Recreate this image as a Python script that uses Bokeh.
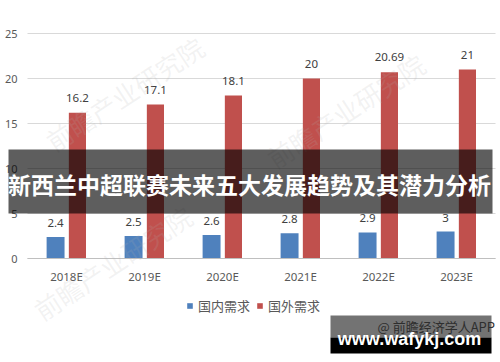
from bokeh.plotting import figure
from bokeh.models import (ColumnDataSource, LabelSet, Label, BoxAnnotation, Grid,
                          Legend, LegendItem, LinearAxis, FixedTicker, Range1d)
from bokeh.transform import dodge
from bokeh.core.properties import value
from bokeh.embed import file_html
from bokeh.resources import INLINE

years = ["2018E", "2019E", "2020E", "2021E", "2022E", "2023E"]
domestic = [2.4, 2.5, 2.6, 2.8, 2.9, 3]
foreign = [16.2, 17.1, 18.1, 20, 20.69, 21]
domestic_labels = ["2.4", "2.5", "2.6", "2.8", "2.9", "3"]
foreign_labels = ["16.2", "17.1", "18.1", "20", "20.69", "21"]
series_names = ["国内需求", "国外需求"]
y_ticks = [0, 5, 10, 15, 20, 25]
title_text = "新西兰中超联赛未来五大发展趋势及其潜力分析"
site_text = "www.wafykj.com"
source_text = "@ 前瞻经济学人APP"
watermark_text = "前瞻产业研究院"

BLUE = "#4f81bd"
RED = "#c0504d"
CJK = "Noto Sans CJK SC"
NUM = "Noto Sans"
W, H = 500, 362

n = len(years)
pos = [i + 0.5 for i in range(n)]          # category centres on a numeric scale
src = ColumnDataSource(dict(x=pos, year=years, domestic=domestic, foreign=foreign,
                            dl=domestic_labels, fl=foreign_labels))

# frame covers the whole canvas; ranges chosen so 0..6 categories span px 27..495
# and the value axis 0..25 spans px 258..33
p = figure(width=W, height=H,
           x_range=Range1d(-27 / 78, (W - 27) / 78),
           y_range=Range1d(-(H - 258) / 9, 258 / 9),
           output_backend="svg", toolbar_location=None,
           x_axis_location=None, y_axis_location=None,
           min_border=0, min_border_left=0, min_border_right=0,
           min_border_top=0, min_border_bottom=0)
p.outline_line_color = None
p.background_fill_color = "white"
p.border_fill_color = "white"

p.xgrid.visible = False
p.ygrid.visible = False

yaxis = LinearAxis(fixed_location=0, bounds=(0, 25), ticker=FixedTicker(ticks=y_ticks),
                   axis_line_color=None, major_tick_line_color=None,
                   minor_tick_line_color=None, major_tick_in=0, major_tick_out=0,
                   major_label_standoff=10, major_label_text_font_size="11px",
                   major_label_text_color="#595959", major_label_text_font=NUM)
p.add_layout(yaxis, "left")

grid = Grid(dimension=1, ticker=FixedTicker(ticks=y_ticks), cross_bounds=(0, n),
            grid_line_color="#d9d9d9", grid_line_width=1)
p.add_layout(grid)

xaxis = LinearAxis(fixed_location=0, bounds=(0, n), ticker=FixedTicker(ticks=pos),
                   major_label_overrides={pos[i]: years[i] for i in range(n)},
                   axis_line_color="#bfbfbf", major_tick_line_color=None,
                   minor_tick_line_color=None, major_tick_in=0, major_tick_out=0,
                   major_label_standoff=10, major_label_text_font_size="11.5px",
                   major_label_text_color="#595959", major_label_text_font=NUM)
p.add_layout(xaxis, "below")

r1 = p.vbar(x=dodge("x", -0.14), top="domestic", width=0.23,
            source=src, fill_color=BLUE, line_color=None)
r2 = p.vbar(x=dodge("x", 0.14), top="foreign", width=0.22,
            source=src, fill_color=RED, line_color=None)

p.add_layout(LabelSet(x=dodge("x", -0.14), y="domestic", text="dl",
                      source=src, text_align="center", text_baseline="middle",
                      y_offset=14, text_font_size="11.5px", text_color="#404040",
                      text_font=value(NUM)))
p.add_layout(LabelSet(x=dodge("x", 0.14), y="foreign", text="fl",
                      source=src, text_align="center", text_baseline="middle",
                      y_offset=15, text_font_size="11.5px", text_color="#404040",
                      text_font=value(NUM)))

legend = Legend(items=[LegendItem(label=series_names[0], renderers=[r1]),
                       LegendItem(label=series_names[1], renderers=[r2])],
                orientation="horizontal", location=(186, 47),
                glyph_width=7, glyph_height=7, label_standoff=5, spacing=6,
                label_height=20, padding=0, margin=0, border_line_color=None,
                background_fill_alpha=0, label_text_font_size="13px",
                label_text_color="#595959", label_text_font=CJK,
                label_text_baseline="middle")
p.add_layout(legend, "center")


def sc(x, y):
    """canvas pixel (from top-left) -> screen units (from bottom-left)"""
    return x, H - y


# faint watermarks
for (cx, cy, ang) in [(124, 93, 0.58), (345, 110, 0.58), (112, 262, 0.58)]:
    sx, sy = sc(cx, cy)
    p.add_layout(Label(x=sx, y=sy, x_units="screen", y_units="screen", text=watermark_text,
                       angle=ang, text_align="center", text_baseline="middle",
                       text_font=CJK, text_font_size="26px", text_color="#b0b0b0",
                       text_alpha=0.16))

# title banner
p.add_layout(BoxAnnotation(left=8, right=492, top=H - 149, bottom=H - 213,
                           left_units="screen", right_units="screen",
                           top_units="screen", bottom_units="screen",
                           fill_color="black", fill_alpha=0.63, line_color=None))
tx, ty = sc(249, 183)
p.add_layout(Label(x=tx, y=ty, x_units="screen", y_units="screen", text=title_text,
                   text_align="center", text_baseline="middle", text_font=CJK,
                   text_font_style="bold", text_font_size="23px", text_color="white"))

# bottom-right site banner
p.add_layout(BoxAnnotation(left=330, right=491, top=H - 315, bottom=H - 337,
                           left_units="screen", right_units="screen",
                           top_units="screen", bottom_units="screen",
                           fill_color="black", fill_alpha=0.55, line_color=None))
p.add_layout(BoxAnnotation(left=330, right=491, top=H - 337, bottom=H - 353,
                           left_units="screen", right_units="screen",
                           top_units="screen", bottom_units="screen",
                           fill_color="black", fill_alpha=1.0, line_color=None))
sx, sy = sc(377, 326)
p.add_layout(Label(x=sx, y=sy, x_units="screen", y_units="screen", text=source_text,
                   text_align="left", text_baseline="middle", text_font=CJK,
                   text_font_size="13px", text_color="#2e2e2e"))
sx, sy = sc(409, 338)
p.add_layout(Label(x=sx, y=sy, x_units="screen", y_units="screen", text=site_text,
                   text_align="center", text_baseline="middle",
                   text_font="Liberation Sans", text_font_style="bold",
                   text_font_size="18px", text_color="white"))

open("out.html", "w").write(file_html(p, INLINE))
